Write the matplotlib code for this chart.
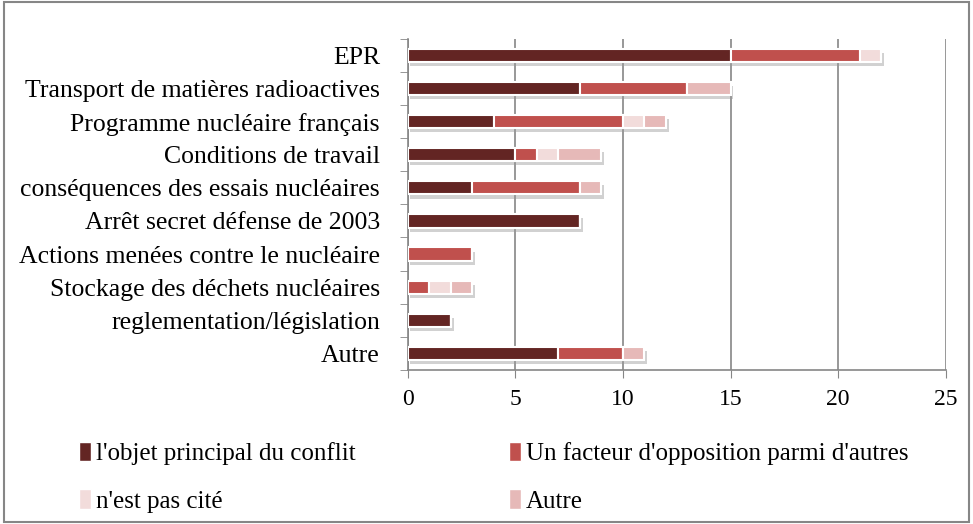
import matplotlib
matplotlib.use("Agg")
import matplotlib.pyplot as plt
import matplotlib.patheffects as pe
from matplotlib.patches import Rectangle, Patch
import numpy as np

categories = ["EPR", "Transport de matières radioactives", "Programme nucléaire français",
              "Conditions de travail", "conséquences des essais nucléaires",
              "Arrêt secret défense de 2003", "Actions menées contre le nucléaire",
              "Stockage des déchets nucléaires", "reglementation/législation", "Autre"]
objet_principal = [15, 8, 4, 5, 3, 8, 0, 0, 2, 7]
facteur = [6, 5, 6, 1, 5, 0, 3, 1, 0, 3]
pas_cite = [1, 0, 1, 1, 0, 0, 0, 1, 0, 0]
autre = [0, 2, 1, 2, 1, 0, 0, 1, 0, 1]
series_names = ["l'objet principal du conflit", "Un facteur d'opposition parmi d'autres",
                "n'est pas cité", "Autre"]
colors = ["#632523", "#C0504D", "#F2DCDB", "#E6B9B8"]
xticks = [0, 5, 10, 15, 20, 25]

plt.rcParams['font.family'] = ['Liberation Serif', 'DejaVu Serif']

fig = plt.figure(figsize=(9.73, 5.24), dpi=100)
fig.patches.append(Rectangle((0.004, 0.004), 0.992, 0.992, transform=fig.transFigure,
                             fill=False, edgecolor="#868686", linewidth=1.5))
ax = fig.add_axes([0.419, 0.294, 0.553, 0.632])

y = np.arange(len(categories))
left = np.zeros(len(categories))
for vals, name, c in zip([objet_principal, facteur, pas_cite, autre], series_names, colors):
    vals = np.array(vals, dtype=float)
    bars = ax.barh(y, vals, left=left, height=0.4, color=c, edgecolor="white", linewidth=1.5,
                   zorder=3, label=name)
    for b, v in zip(bars, vals):
        if v > 0:
            b.set_path_effects([pe.SimplePatchShadow(offset=(2, -3), shadow_rgbFace="#999999", alpha=0.45),
                                pe.Normal()])
    left += vals

ax.set_xlim(0, 25)
ax.set_ylim(len(categories) - 0.5, -0.5)
ax.set_xticks(xticks)
ax.set_xticklabels([str(t) for t in xticks], fontsize=17)
ax.set_yticks(y)
ax.set_yticklabels(categories, fontsize=18.5)
ax.tick_params(axis='y', length=0, pad=20)
ax.set_yticks(np.arange(-0.5, len(categories), 1), minor=True)
ax.tick_params(axis='y', which='minor', length=6, color="#868686", direction='out')
ax.tick_params(axis='x', length=6, color="#868686", direction='out', pad=8)
ax.grid(axis='x', color="#868686", linewidth=1.2, zorder=0)
for s in ["top", "right"]:
    ax.spines[s].set_visible(False)
for s in ["left", "bottom"]:
    ax.spines[s].set_color("#868686")
    ax.spines[s].set_linewidth(1.2)

order = [0, 2, 1, 3]
legend_handles = [Patch(facecolor=colors[i], edgecolor="white") for i in order]
legend_labels = [series_names[i] for i in order]
fig.legend(legend_handles, legend_labels, loc="upper left", bbox_to_anchor=(0.058, 0.2),
           ncol=2, frameon=False, fontsize=18, handlelength=0.5, handleheight=0.8,
           handletextpad=0.2, columnspacing=6.1, labelspacing=0.98)

fig.savefig("out.png", dpi=100)
